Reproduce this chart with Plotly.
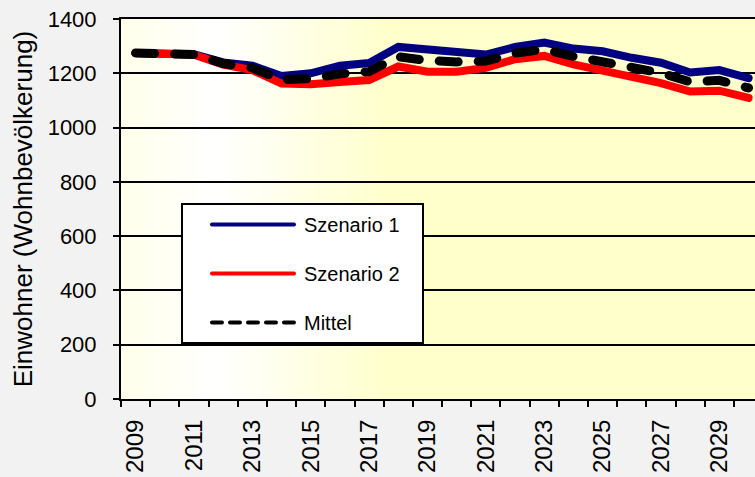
import base64
import plotly.graph_objects as go

FONT = "Liberation Sans, Arial, sans-serif"

# ---------------------------------------------------------------------------
# Data
# ---------------------------------------------------------------------------

years = list(range(2009, 2031))

szenario_1 = [1275, 1270, 1270, 1240, 1228, 1190, 1200, 1228, 1238, 1297, 1288,
              1279, 1269, 1297, 1313, 1291, 1281, 1257, 1239, 1203, 1212, 1182]
szenario_2 = [1275, 1268, 1268, 1232, 1212, 1162, 1160, 1168, 1175, 1225, 1206,
              1206, 1220, 1252, 1264, 1233, 1212, 1186, 1164, 1133, 1136, 1109]
mittel = [1275, 1269, 1269, 1236, 1220, 1176, 1180, 1198, 1206, 1261, 1247,
          1242, 1245, 1274, 1288, 1262, 1246, 1222, 1201, 1168, 1174, 1146]

year_labels = [str(y) for y in range(2009, 2030, 2)]
y_ticks = list(range(0, 1401, 200))

# trailing no-break spaces give the legend box the same right padding as the original
PAD = '\u00a0\u00a0\u00a0'

# ---------------------------------------------------------------------------
# Background gradient for the plot area (light cream -> white -> yellow)
# ---------------------------------------------------------------------------

GRADIENT_SVG = (
    '<svg xmlns="http://www.w3.org/2000/svg" width="100" height="100" '
    'viewBox="0 0 100 100" preserveAspectRatio="none">'
    '<defs><linearGradient id="g" x1="0" y1="0" x2="1" y2="0">'
    '<stop offset="0" stop-color="#FFFFEA"/>'
    '<stop offset="0.15" stop-color="#FFFFFF"/>'
    '<stop offset="0.42" stop-color="#FFFFCC"/>'
    '<stop offset="1" stop-color="#FFFFCC"/>'
    '</linearGradient></defs>'
    '<rect width="100" height="100" fill="url(#g)"/></svg>'
)
bg_src = "data:image/svg+xml;base64," + base64.b64encode(GRADIENT_SVG.encode()).decode()

# ---------------------------------------------------------------------------
# Figure
# ---------------------------------------------------------------------------

fig = go.Figure()
fig.add_trace(go.Scatter(
    x=years, y=szenario_1, mode='lines', name='Szenario 1' + PAD, legendgroup='s1',
    line=dict(color='#000080', width=8),
))
fig.add_trace(go.Scatter(
    x=years, y=szenario_2, mode='lines', name='Szenario 2' + PAD, legendgroup='s2',
    line=dict(color='#FF0000', width=8),
))
fig.add_trace(go.Scatter(
    x=years, y=mittel, mode='lines', name='Mittel', legendgroup='m',
    line=dict(color='#000000', width=9, dash='19px,20px'),
))

fig.update_layout(
    width=755, height=477,
    margin=dict(l=121, r=0, t=19, b=78),
    paper_bgcolor='#F2F2F2', plot_bgcolor='#FFFFCC',
    font=dict(family=FONT, color='black'),
    showlegend=True,
    legend=dict(
        x=0.0946, y=0.516, xanchor='left', yanchor='top',
        bgcolor='white', bordercolor='black', borderwidth=2,
        font=dict(size=20, family=FONT),
        itemwidth=111, traceorder='grouped', tracegroupgap=20,
    ),
    images=[dict(
        source=bg_src, xref='paper', yref='paper', x=0, y=1,
        sizex=1, sizey=1, sizing='stretch', layer='below',
        xanchor='left', yanchor='top',
    )],
)

fig.update_xaxes(
    range=[2008.5, 2030.22],
    tickmode='array', tickvals=[int(t) for t in year_labels], ticktext=year_labels,
    tickangle=-90, tickfont=dict(size=24), ticks='', ticklabelstandoff=9,
    showgrid=False, zeroline=False,
    showline=True, linecolor='black', linewidth=2, mirror=True,
    minor=dict(tick0=2008.5, dtick=1, ticks='outside', ticklen=6,
               tickwidth=2, tickcolor='black', showgrid=False),
)
fig.update_yaxes(
    range=[0, 1400], tickmode='array', tickvals=y_ticks,
    tickfont=dict(size=22), ticks='outside', ticklen=6, tickwidth=2,
    tickcolor='black', ticklabelstandoff=12,
    showgrid=True, gridcolor='black', gridwidth=2, zeroline=False,
    showline=True, linecolor='black', linewidth=2,
    title=dict(text='Einwohner (Wohnbevölkerung)', font=dict(size=26), standoff=8),
)

# no page margin; round line caps like the original chart, and
# longer/thinner legend samples
POST = """
document.body.style.margin = '0';
document.querySelectorAll('.scatterlayer .js-line').forEach(function(p){
    p.style.strokeLinecap = 'round';
});
document.querySelectorAll('.legendlines path').forEach(function(p){
    p.setAttribute('d', 'M29,0h82');
    p.style.strokeWidth = '4px';
    p.style.strokeLinecap = 'round';
    if (p.style.strokeDasharray) { p.style.strokeDasharray = '10px,8px'; }
});
"""

fig.write_html("out.html", post_script=POST, config={'displayModeBar': False})
